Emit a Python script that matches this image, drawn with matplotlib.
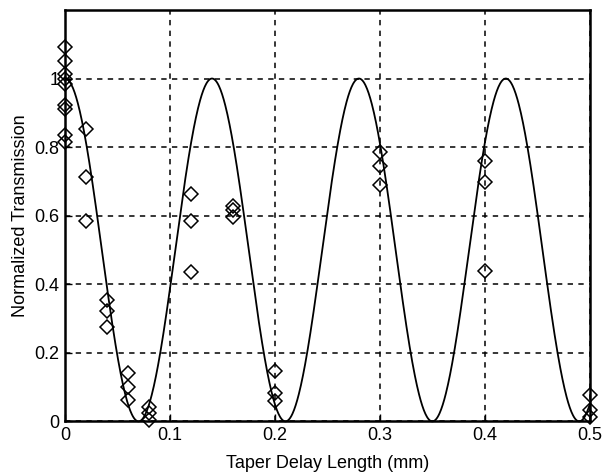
import numpy as np
import matplotlib.pyplot as plt

plt.rcParams["font.family"] = ["Liberation Sans", "DejaVu Sans"]

meas_x = [0.0] * 9 + [0.02] * 3 + [0.04] * 3 + [0.06] * 3 + [0.08] * 3 \
    + [0.12] * 3 + [0.16] * 3 + [0.2] * 3 + [0.3] * 3 + [0.4] * 3 + [0.5] * 3
meas_y = [1.093, 1.05, 1.014, 1.0, 0.983, 0.923, 0.912, 0.836, 0.816,
          0.852, 0.714, 0.584,
          0.355, 0.323, 0.274,
          0.141, 0.099, 0.061,
          0.043, 0.024, 0.004,
          0.664, 0.584, 0.437,
          0.628, 0.617, 0.596,
          0.147, 0.082, 0.059,
          0.785, 0.746, 0.688,
          0.758, 0.698, 0.439,
          0.077, 0.033, 0.012]

# courbe théorique : cos^2, période 0.14 mm
period = 0.14
x_range = (0.0, 0.5)

x_tick_vals = [0, 0.1, 0.2, 0.3, 0.4, 0.5]
y_tick_vals = [0, 0.2, 0.4, 0.6, 0.8, 1.0]
x_tick_labels = ["0", "0.1", "0.2", "0.3", "0.4", "0.5"]
y_tick_labels = ["0", "0.2", "0.4", "0.6", "0.8", "1"]

fig = plt.figure(figsize=(6.03, 4.74), dpi=100)
ax = fig.add_axes([0.108, 0.111, 0.870, 0.868])

xs = np.linspace(x_range[0], x_range[1], 1000)
ax.plot(xs, np.cos(np.pi * xs / period) ** 2, color="black", lw=1.3,
        clip_on=False, zorder=3)
ax.plot(meas_x, meas_y, linestyle="none", marker="D", markersize=7,
        markerfacecolor="none", markeredgecolor="black", markeredgewidth=1.1,
        clip_on=False, zorder=4)

ax.set_xlim(0, 0.5)
ax.set_ylim(0, 1.2)
ax.set_xticks(x_tick_vals, x_tick_labels)
ax.set_yticks(y_tick_vals, y_tick_labels)
ax.tick_params(direction="in", length=5, width=1, labelsize=13, colors="black",
               top=False, right=False, pad=4)
ax.grid(True, color="black", linestyle=(0, (3.5, 3.5)), linewidth=1.1)
for sp in ax.spines.values():
    sp.set_linewidth(1.8)
    sp.set_color("black")

ax.set_xlabel("Taper Delay Length (mm)", fontsize=13, labelpad=8)
ax.set_ylabel("Normalized Transmission", fontsize=13, labelpad=4)

fig.savefig("out.png", dpi=100)
